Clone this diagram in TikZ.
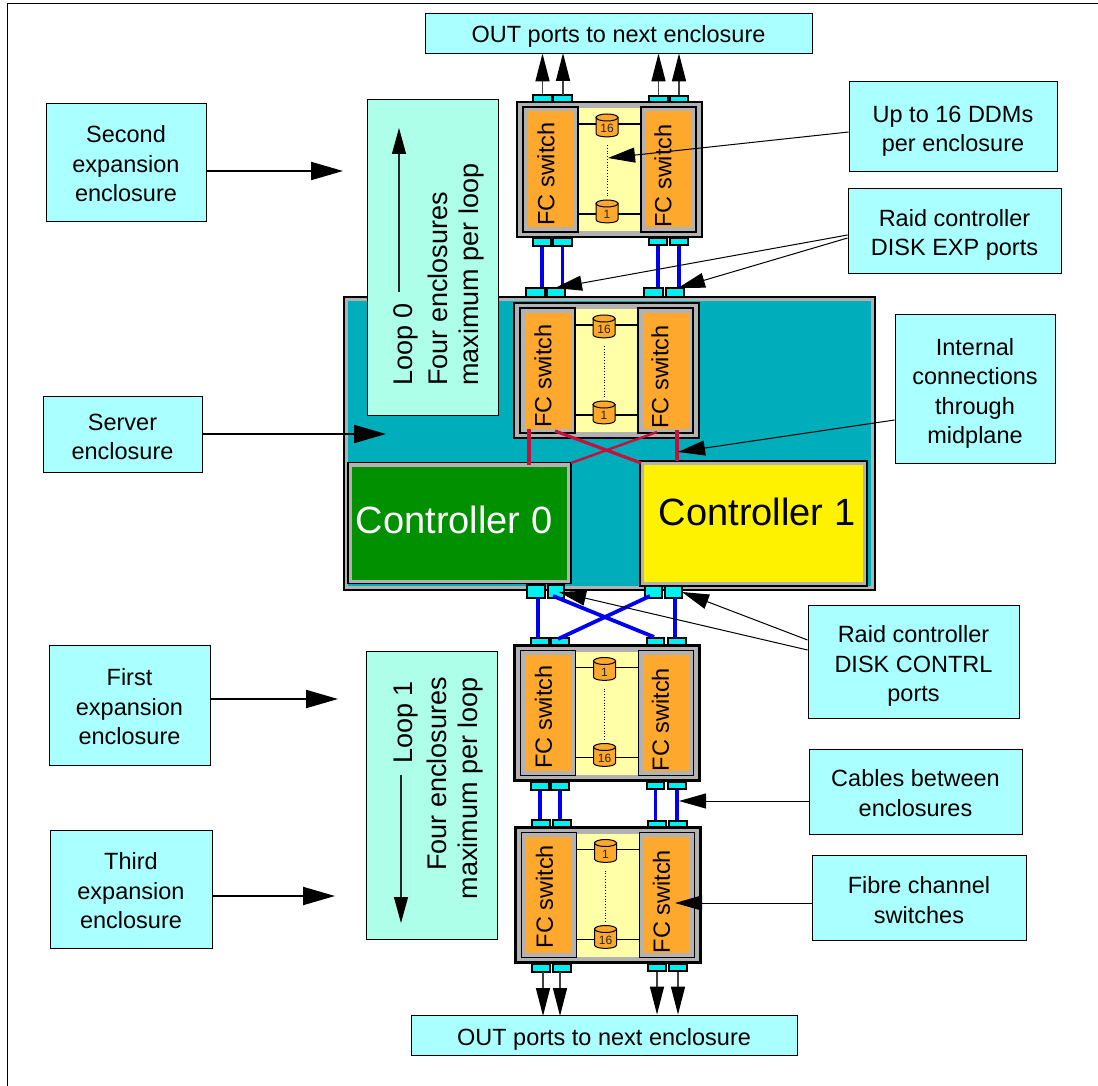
\documentclass[tikz,border=0pt]{standalone}
\usepackage{fontspec}
\setmainfont{Liberation Sans}
\usetikzlibrary{arrows.meta}
\definecolor{lab}{HTML}{AAFFFF}
\definecolor{loopc}{HTML}{ADFFEA}
\definecolor{tealc}{HTML}{00AEBB}
\definecolor{orangec}{HTML}{FFA82E}
\definecolor{creamc}{HTML}{FFFFA8}
\definecolor{greyc}{HTML}{B2B2B2}
\definecolor{portc}{HTML}{00EFEF}
\definecolor{redc}{HTML}{C8103C}
\definecolor{bluec}{HTML}{0000F0}
\definecolor{greenc}{HTML}{009000}
\tikzset{
  x=1pt,y=-1pt,
  labelbox/.style={draw=black,line width=0.9pt,fill=lab,anchor=center,inner sep=0pt},
  labeltext/.style={align=center,font=\fontsize{23.5}{29.5}\selectfont,anchor=center,inner sep=0pt},
  loopbox/.style={draw=black,line width=0.9pt,fill=loopc,anchor=center,inner sep=0pt},
  looptext/.style={rotate=90,font=\fontsize{27}{27}\selectfont,inner sep=0pt},
  pointer/.style={draw=black,line width=1pt,-{Triangle[length=27pt,width=15pt]}},
  thick pointer/.style={draw=black,line width=2pt,-{Triangle[length=32pt,width=18pt]}},
  looparrow/.style={draw=black!85,line width=1.1pt,-{Triangle[length=26pt,width=14pt,color=black]}},
  outarrow/.style={draw=black!75,line width=1.5pt,-{Triangle[length=28pt,width=14pt,color=black]}},
  bluecable/.style={draw=bluec,line width=3.2pt},
  bluecross/.style={draw=bluec,line width=3.8pt},
  redcable/.style={draw=redc,line width=3.2pt},
  portbox/.style={draw=black,line width=1.6pt,fill=portc,inner sep=0pt,anchor=center},
  fcouter/.style={draw=black,line width=1.6pt,fill=greyc,inner sep=0pt,anchor=center},
  fcinner/.style={fill=orangec,inner sep=0pt,anchor=center},
  fctext/.style={rotate=90,font=\fontsize{23.5}{23.5}\selectfont,anchor=center,inner sep=0pt},
  encl/.style={draw=black,line width=2.2pt,fill=greyc,inner sep=0pt,anchor=center},
  drumline/.style={draw=black,line width=1.6pt},
  drumdot/.style={draw=black,line width=0.8pt,dotted},
}
% name x1 y1 x2 y2 text-shift text
\newcommand{\lbox}[7]{%
  \node[labelbox,minimum width={(#4)-(#2)},minimum height={(#5)-(#3)}] (#1) at ({((#2)+(#4))/2},{((#3)+(#5))/2}) {};%
  \node[labeltext] (#1-text) at ({((#2)+(#4))/2},{((#3)+(#5))/2+(#6)}) {#7};%
}
\newcommand{\port}[5]{% name x1 y1 x2 y2
  \node[portbox,minimum width={(#4)-(#2)},minimum height={(#5)-(#3)}] (#1) at ({((#2)+(#4))/2},{((#3)+(#5))/2}) {};%
}
\newcommand{\drum}[4]{% name cx cy number
  \draw[fill=orangec,draw=black,line width=1pt] ({#2-11},{#3-8}) -- ({#2-11},{#3+8}) .. controls ({#2-11},{#3+12.5}) and ({#2+11},{#3+12.5}) .. ({#2+11},{#3+8}) -- ({#2+11},{#3-8}) -- cycle;
  \draw[fill=orangec,draw=black,line width=1pt] (#2,{#3-8}) ellipse [x radius=11,y radius=3.5];
  \node[inner sep=0pt,font=\fontsize{12}{12}\selectfont,text=black!85] (#1) at (#2,{#3+3}) {#4};%
}
% enclosure: prefix, x-left, y-top, top number, bottom number, left text y-offset
\newcommand{\enclosure}[6]{%
  \begin{scope}[shift={(#2,#3)}]
    \node[encl,minimum width=185pt,minimum height=135pt] (#1) at (92.5,67.5) {};
    \fill[creamc] (6,6) rectangle (179,129);
    \node[fcouter,minimum width=55pt,minimum height=125pt] (#1L) at (33.5,67.5) {};
    \node[fcinner,minimum width=46pt,minimum height=116pt] at (33.5,67.5) {};
    \node[fctext] (#1Lt) at (29,#6) {FC switch};
    \node[fcouter,minimum width=55pt,minimum height=125pt] (#1R) at (151.5,67.5) {};
    \node[fcinner,minimum width=46pt,minimum height=116pt] at (151.5,67.5) {};
    \node[fctext] (#1Rt) at (146,74) {FC switch};
    \draw[drumdot] (90,43) -- (90,96);
    \draw[drumline] (#1L.east |- 0,22) -- (#1R.west |- 0,22);
    \draw[drumline] (#1L.east |- 0,112) -- (#1R.west |- 0,112);
    \drum{#1a}{90}{23.5}{#4}
    \drum{#1b}{90}{109.5}{#5}
  \end{scope}%
}
\begin{document}
\begin{tikzpicture}
\useasboundingbox (0,0) rectangle (1098,1086);
\fill[white] (0,0) rectangle (1098,1086);
\draw[black,line width=1pt] (1098,4) -- (7,4) -- (7,1086);

% Server enclosure body
\node[draw=black,line width=1.4pt,fill=greyc,inner sep=0pt,minimum width=531pt,minimum height=293pt] (server) at (609.5,443.5) {};
\node[fill=tealc,inner sep=0pt,minimum width=523pt,minimum height=285pt] (serverin) at (609.5,443.5) {};

\lbox{out1}{425}{13}{812}{53}{3.5}{OUT ports to next enclosure}
\lbox{out2}{411}{1015}{797}{1055}{4}{OUT ports to next enclosure}

% Enclosures
\enclosure{eA}{517}{102}{16}{1}{72}
\enclosure{eB}{514}{303}{16}{1}{73}
\enclosure{eC}{514.5}{645.5}{1}{16}{71.5}
\enclosure{eD}{515.5}{827.5}{1}{16}{69}

% Loop boxes
\node[loopbox,minimum width=131pt,minimum height=316pt] (loop0) at (432.5,257) {};
\node[looptext,anchor=base west] (l0a) at (412,386) {Loop 0};
\node[looptext,anchor=base west] (l0b) at (447,386) {Four enclosures};
\node[looptext,anchor=base west] (l0c) at (478,386) {maximum per loop};
\node[loopbox,minimum width=131pt,minimum height=288pt] (loop1) at (431.5,795) {};
\node[looptext,anchor=base east] (l1a) at (412,681) {Loop 1};
\node[looptext,anchor=base east] (l1b) at (446,677) {Four enclosures};
\node[looptext,anchor=base east] (l1c) at (477,677) {maximum per loop};
\coordinate (l0s) at (399,292);\coordinate (l0e) at (399,128);
\coordinate (l1s) at (401,775);\coordinate (l1e) at (401,923);
\draw[looparrow] (l0s) -- (l0e);
\draw[looparrow] (l1s) -- (l1e);

% Controllers
\node[fcouter,minimum width=223pt,minimum height=121pt] (c0) at (459.5,523) {};
\node[fill=greenc,inner sep=0pt,minimum width=215pt,minimum height=113pt] (c0t) at (459.5,523) {};
\node[text=white,font=\fontsize{38}{38}\selectfont,inner sep=0pt] (c0l) at (454,520) {Controller 0};
\node[fcouter,minimum width=227pt,minimum height=125pt] (c1) at (753.5,523.5) {};
\node[fill=yellow,inner sep=0pt,minimum width=219pt,minimum height=117pt] (c1t) at (753.5,523.5) {};
\node[text=black,font=\fontsize{38}{38}\selectfont,inner sep=0pt] (c1l) at (757,512) {Controller 1};

% Ports
\port{a1}{533}{95}{552}{102}\port{a2}{553}{95}{572}{102}\port{a3}{649}{96}{668}{102}\port{a4}{670}{96}{688}{102}
\port{a5}{533}{238}{551}{246}\port{a6}{553}{238}{572}{246}\port{a7}{649}{238}{667}{245}\port{a8}{670}{238}{688}{245}
\port{b1}{526}{288}{545}{297}\port{b2}{547}{288}{565}{297}\port{b3}{644}{288}{663}{297}\port{b4}{666}{288}{684}{297}
\port{k1}{527}{585}{545}{598}\port{k2}{548}{585}{564}{598}\port{k3}{645}{586}{662}{598}\port{k4}{665}{586}{682}{598}
\port{c1p}{531}{638}{549}{645}\port{c2p}{551}{638}{569}{645}\port{c3p}{647}{638}{664}{645}\port{c4p}{668}{638}{686}{645}
\port{c5p}{531}{782}{549}{790}\port{c6p}{551}{782}{569}{790}\port{c7p}{647}{782}{664}{789}\port{c8p}{668}{782}{686}{789}
\port{d1}{532}{820}{550}{827}\port{d2}{553}{820}{571}{827}\port{d3}{648}{821}{666}{827}\port{d4}{669}{821}{687}{827}
\port{d5}{532}{964}{550}{972}\port{d6}{553}{964}{571}{972}\port{d7}{648}{964}{666}{971}\port{d8}{669}{964}{687}{971}

% Blue cables
\draw[bluecable] (a5.south) -- (a5.south |- b1.north);
\draw[bluecable] (a6.south) -- (a6.south |- b2.north);
\draw[bluecable] (a7.south) -- (a7.south |- b3.north);
\draw[bluecable] (a8.south) -- (a8.south |- b4.north);
\draw[bluecable] (538,598) -- (538,638);
\draw[bluecable] (675,598) -- (675,638);
\draw[bluecross] (553,596) -- (654,637);
\draw[bluecross] (650,596) -- (558,639);
\draw[bluecable] (c5p.south) -- (c5p.south |- d1.north);
\draw[bluecable] (c6p.south) -- (c6p.south |- d2.north);
\draw[bluecable] (c7p.south) -- (c7p.south |- d3.north);
\draw[bluecable] (c8p.south) -- (c8p.south |- d4.north);

% Red internal
\draw[redcable] (529,429) -- (529,465);
\draw[redcable] (677,430) -- (677,461);
\draw[redcable] (555,431) -- (641,463);
\draw[redcable,line width=2.4pt] (657,432) -- (571,463);

% Out arrows
\draw[outarrow] (a1.north) -- (a1.north |- out1.south);
\draw[outarrow] (563,95) -- (563,53);
\draw[outarrow] (a3.north) -- (a3.north |- out1.south);
\draw[outarrow] (a4.north) -- (a4.north |- out1.south);
\draw[outarrow] (543,972) -- (543,1016);
\draw[outarrow] (560,972) -- (560,1016);
\draw[outarrow] (d7.south) -- (d7.south |- out2.north);
\draw[outarrow] (d8.south) -- (d8.south |- out2.north);

% Labels
\lbox{second}{46}{103}{206}{221}{2}{Second\\expansion\\enclosure}
\lbox{up}{849}{81}{1057}{171}{5}{Up to 16 DDMs\\per enclosure}
\lbox{raid1}{848}{188}{1061}{273}{4.5}{Raid controller\\DISK EXP ports}
\lbox{inter}{895}{314}{1055}{463}{5}{Internal\\connections\\through\\midplane}
\lbox{srv}{43}{396}{202}{472}{3}{Server\\enclosure}
\lbox{raid2}{808}{605}{1019}{718}{4.5}{Raid controller\\DISK CONTRL\\ports}
\lbox{first}{49}{645}{210}{765}{2}{First\\expansion\\enclosure}
\lbox{third}{50}{830}{212}{948}{2}{Third\\expansion\\enclosure}
\lbox{cab}{809}{749}{1022}{834}{1.5}{Cables between\\enclosures}
\lbox{fib}{812}{855}{1026}{940}{2.5}{Fibre channel\\switches}

% Pointers
\coordinate (t1) at (343,171);\coordinate (t2) at (386,434);\coordinate (t3) at (338,699);\coordinate (t4) at (335,896);
\draw[thick pointer] (second.east |- t1) -- (t1);
\draw[thick pointer] (srv.east |- t2) -- (t2);
\draw[thick pointer] (first.east |- t3) -- (t3);
\draw[thick pointer] (third.east |- t4) -- (t4);
\coordinate (p1) at (608,158);\coordinate (p2) at (555,288);\coordinate (p3) at (678,288);\coordinate (p4) at (678,452);
\coordinate (p5) at (559,592);\coordinate (p6) at (682,592);\coordinate (p7) at (679,801);\coordinate (p8) at (675,903);
\draw[pointer] (up.west |- 0,132) -- (p1);
\draw[pointer] (raid1.west |- 0,235) -- (p2);
\draw[pointer] (raid1.west |- 0,238) -- (p3);
\draw[pointer] (inter.west |- 0,420) -- (p4);
\draw[pointer] (raid2.west |- 0,650) -- (p5);
\draw[pointer] (raid2.west |- 0,640) -- (p6);
\draw[pointer] (cab.west |- p7) -- (p7);
\draw[pointer] (fib.west |- p8) -- (p8);
\end{tikzpicture}
\end{document}
